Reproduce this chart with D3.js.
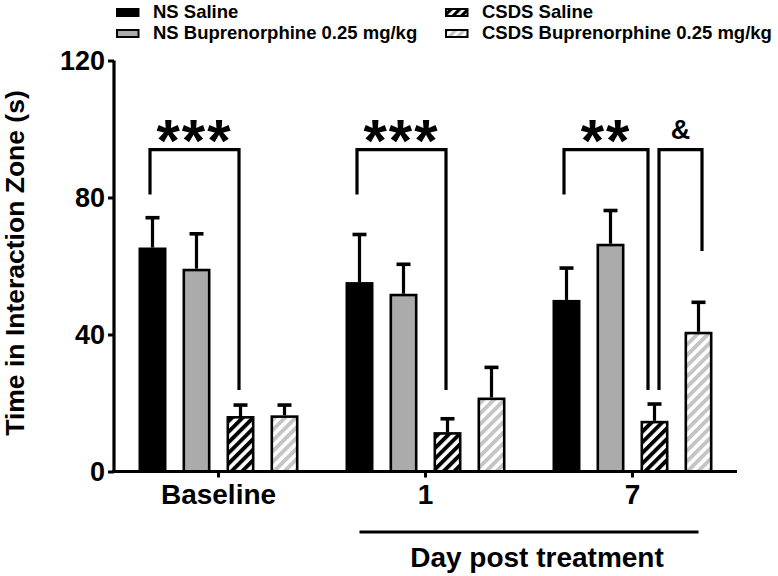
<!DOCTYPE html>
<html>
<head>
<meta charset="utf-8">
<script src="https://cdn.jsdelivr.net/npm/d3@7"></script>
<style>
  html, body { margin: 0; padding: 0; background: #fff; }
  svg { display: block; font-family: "Liberation Sans", Arial, sans-serif; }
</style>
</head>
<body>
<svg id="chart" width="778" height="576"></svg>
<script>
// ---------------- data ----------------
const categories = ["Baseline", "1", "7"];
const seriesNames = ["NS Saline", "NS Buprenorphine 0.25 mg/kg", "CSDS Saline", "CSDS Buprenorphine 0.25 mg/kg"];
const nsSaline      = [65.4, 55.3, 50.1];
const nsSalineSem   = [8.7, 13.9, 9.3];
const nsBup         = [59.2, 51.9, 66.5];
const nsBupSem      = [10.2, 8.6, 9.7];
const csdsSaline    = [16.2, 11.5, 14.8];
const csdsSalineSem = [3.2, 3.9, 4.9];
const csdsBup       = [16.4, 21.6, 40.8];
const csdsBupSem    = [3.0, 8.8, 8.6];
const yTicks = [0, 40, 80, 120];
const yTitle = "Time in Interaction Zone (s)";
const xTitle = "Day post treatment";
// significance brackets: [category, fromSeries, toSeries, label, top, leftLegBottom, rightLegBottom]
const brackets = [
  ["Baseline", 0, 2, "***", 94, 80.9, 23.8],
  ["1", 0, 2, "***", 94, 80.9, 23.8],
  ["7", 0, 2, "**", 94, 80.9, 23.8],
  ["7", 2, 3, "&", 94, 23.8, 64.4]
];

const values = [nsSaline, nsBup, csdsSaline, csdsBup];
const sems = [nsSalineSem, nsBupSem, csdsSalineSem, csdsBupSem];

// ---------------- setup ----------------
const svg = d3.select("#chart");
const defs = svg.append("defs");
function stripes(id, color, size, band) {
  const p = defs.append("pattern").attr("id", id)
    .attr("patternUnits", "userSpaceOnUse")
    .attr("width", size).attr("height", size)
    .attr("patternTransform", "rotate(45)");
  p.append("rect").attr("width", size).attr("height", size).attr("fill", "#fff");
  p.append("rect").attr("width", band).attr("height", size).attr("fill", color);
}
stripes("hatchBlack", "#000", 7.5, 3.9);
stripes("hatchGray", "#c4c4c4", 7.5, 3.9);
stripes("hatchBlackS", "#000", 6, 3.2);
stripes("hatchGrayS", "#c4c4c4", 6, 3.2);
const fills = ["#000", "#ababab", "url(#hatchBlack)", "url(#hatchGray)"];
const swatchFills = ["#000", "#ababab", "url(#hatchBlackS)", "url(#hatchGrayS)"];

const x = d3.scaleBand().domain(categories).range([115, 736]).padding(0);
const xi = d3.scaleBand().domain(d3.range(seriesNames.length)).range([-88, 88])
  .paddingInner(0.364).paddingOuter(0.182);
const y = d3.scaleLinear().domain([0, 120]).range([471.5, 60.5]);
const cx = (cat, s) => x(cat) + x.bandwidth() / 2 + xi(s) + xi.bandwidth() / 2;

// ---------------- bars ----------------
const barData = [];
seriesNames.forEach((name, s) => {
  categories.forEach((cat, c) => {
    barData.push({ s, cat, v: values[s][c], e: sems[s][c] });
  });
});
const sw = 2.6;
const g = svg.append("g");
// error bars (upward only)
g.selectAll("line.stem").data(barData).join("line")
  .attr("x1", d => cx(d.cat, d.s)).attr("x2", d => cx(d.cat, d.s))
  .attr("y1", d => y(d.v)).attr("y2", d => y(d.v + d.e))
  .attr("stroke", "#000").attr("stroke-width", 3.2);
g.selectAll("line.cap").data(barData).join("line")
  .attr("x1", d => cx(d.cat, d.s) - 7).attr("x2", d => cx(d.cat, d.s) + 7)
  .attr("y1", d => y(d.v + d.e)).attr("y2", d => y(d.v + d.e))
  .attr("stroke", "#000").attr("stroke-width", 3.6);
g.selectAll("rect.bar").data(barData).join("rect")
  .attr("x", d => cx(d.cat, d.s) - xi.bandwidth() / 2 + sw / 2)
  .attr("width", xi.bandwidth() - sw)
  .attr("y", d => y(d.v) + sw / 2)
  .attr("height", d => y(0) - y(d.v) - sw / 2)
  .attr("fill", d => fills[d.s])
  .attr("stroke", "#000").attr("stroke-width", sw);

// ---------------- axes ----------------
const yAxis = d3.axisLeft(y).tickValues(yTicks).tickSize(6).tickPadding(3);
const ya = svg.append("g").attr("transform", "translate(114,0)").call(yAxis);
ya.select(".domain").attr("stroke-width", 3.2).attr("d", `M0,${y(120)}V${y(0) + 1.5}`);
ya.selectAll(".tick line").attr("stroke-width", 3);
ya.selectAll(".tick text").attr("font-size", 27).attr("font-weight", "bold")
  .attr("fill", "#000").attr("font-family", "Liberation Sans, Arial, sans-serif");

const xAxis = d3.axisBottom(x).tickSize(6).tickPadding(7);
const xa = svg.append("g").attr("transform", `translate(0,${y(0)})`).call(xAxis);
xa.select(".domain").attr("stroke-width", 3.2).attr("d", `M112.5,0H737`);
xa.selectAll(".tick line").attr("stroke-width", 3);
xa.selectAll(".tick text").attr("font-size", 28).attr("font-weight", "bold")
  .attr("fill", "#000").attr("font-family", "Liberation Sans, Arial, sans-serif");

// y title
svg.append("text")
  .attr("transform", `translate(24,${263}) rotate(-90)`)
  .attr("text-anchor", "middle")
  .attr("font-size", 26.5).attr("font-weight", "bold")
  .text(yTitle);

// x group line + title
const lineX1 = cx("1", 0), lineX2 = cx("7", 3);
svg.append("line").attr("x1", lineX1).attr("x2", lineX2)
  .attr("y1", 532).attr("y2", 532).attr("stroke", "#000").attr("stroke-width", 3.2);
svg.append("text").attr("x", (lineX1 + lineX2) / 2 + 8).attr("y", 567)
  .attr("text-anchor", "middle").attr("font-size", 28).attr("font-weight", "bold")
  .text(xTitle);

// ---------------- brackets ----------------
brackets.forEach(([cat, a, b, label, top, lb, rb]) => {
  let xl = cx(cat, a) - 2.5, xr = cx(cat, b) - 1.5;
  if (label === "&") { xl = cx(cat, a) + 4.5; xr = cx(cat, b) + 3.5; }
  if (label === "**") { xr = cx(cat, b) - 6.5; }
  svg.append("path")
    .attr("d", `M${xl},${y(lb)}V${y(top)}H${xr}V${y(rb)}`)
    .attr("fill", "none").attr("stroke", "#000").attr("stroke-width", 3.2);
  const isStar = label.includes("*");
  svg.append("text").attr("x", (xl + xr) / 2).attr("y", isStar ? y(top) + 11 : y(top) - 10.5)
    .attr("text-anchor", "middle")
    .attr("font-size", isStar ? 60 : 27).attr("font-weight", "bold")
    .attr("letter-spacing", isStar ? 2 : 0)
    .text(label);
});

// ---------------- legend ----------------
const legendPos = [[116, 8], [116, 29], [445, 8], [445, 29]];
seriesNames.forEach((name, s) => {
  const [lx, ly] = legendPos[s];
  svg.append("rect").attr("x", lx + 1).attr("y", ly + 1).attr("width", 21.5).attr("height", 7)
    .attr("fill", swatchFills[s]).attr("stroke", "#000").attr("stroke-width", 2);
  svg.append("text").attr("x", lx + 37).attr("y", ly + 9.5)
    .attr("font-size", 18.5).attr("font-weight", "bold").text(name);
});
</script>
</body>
</html>
